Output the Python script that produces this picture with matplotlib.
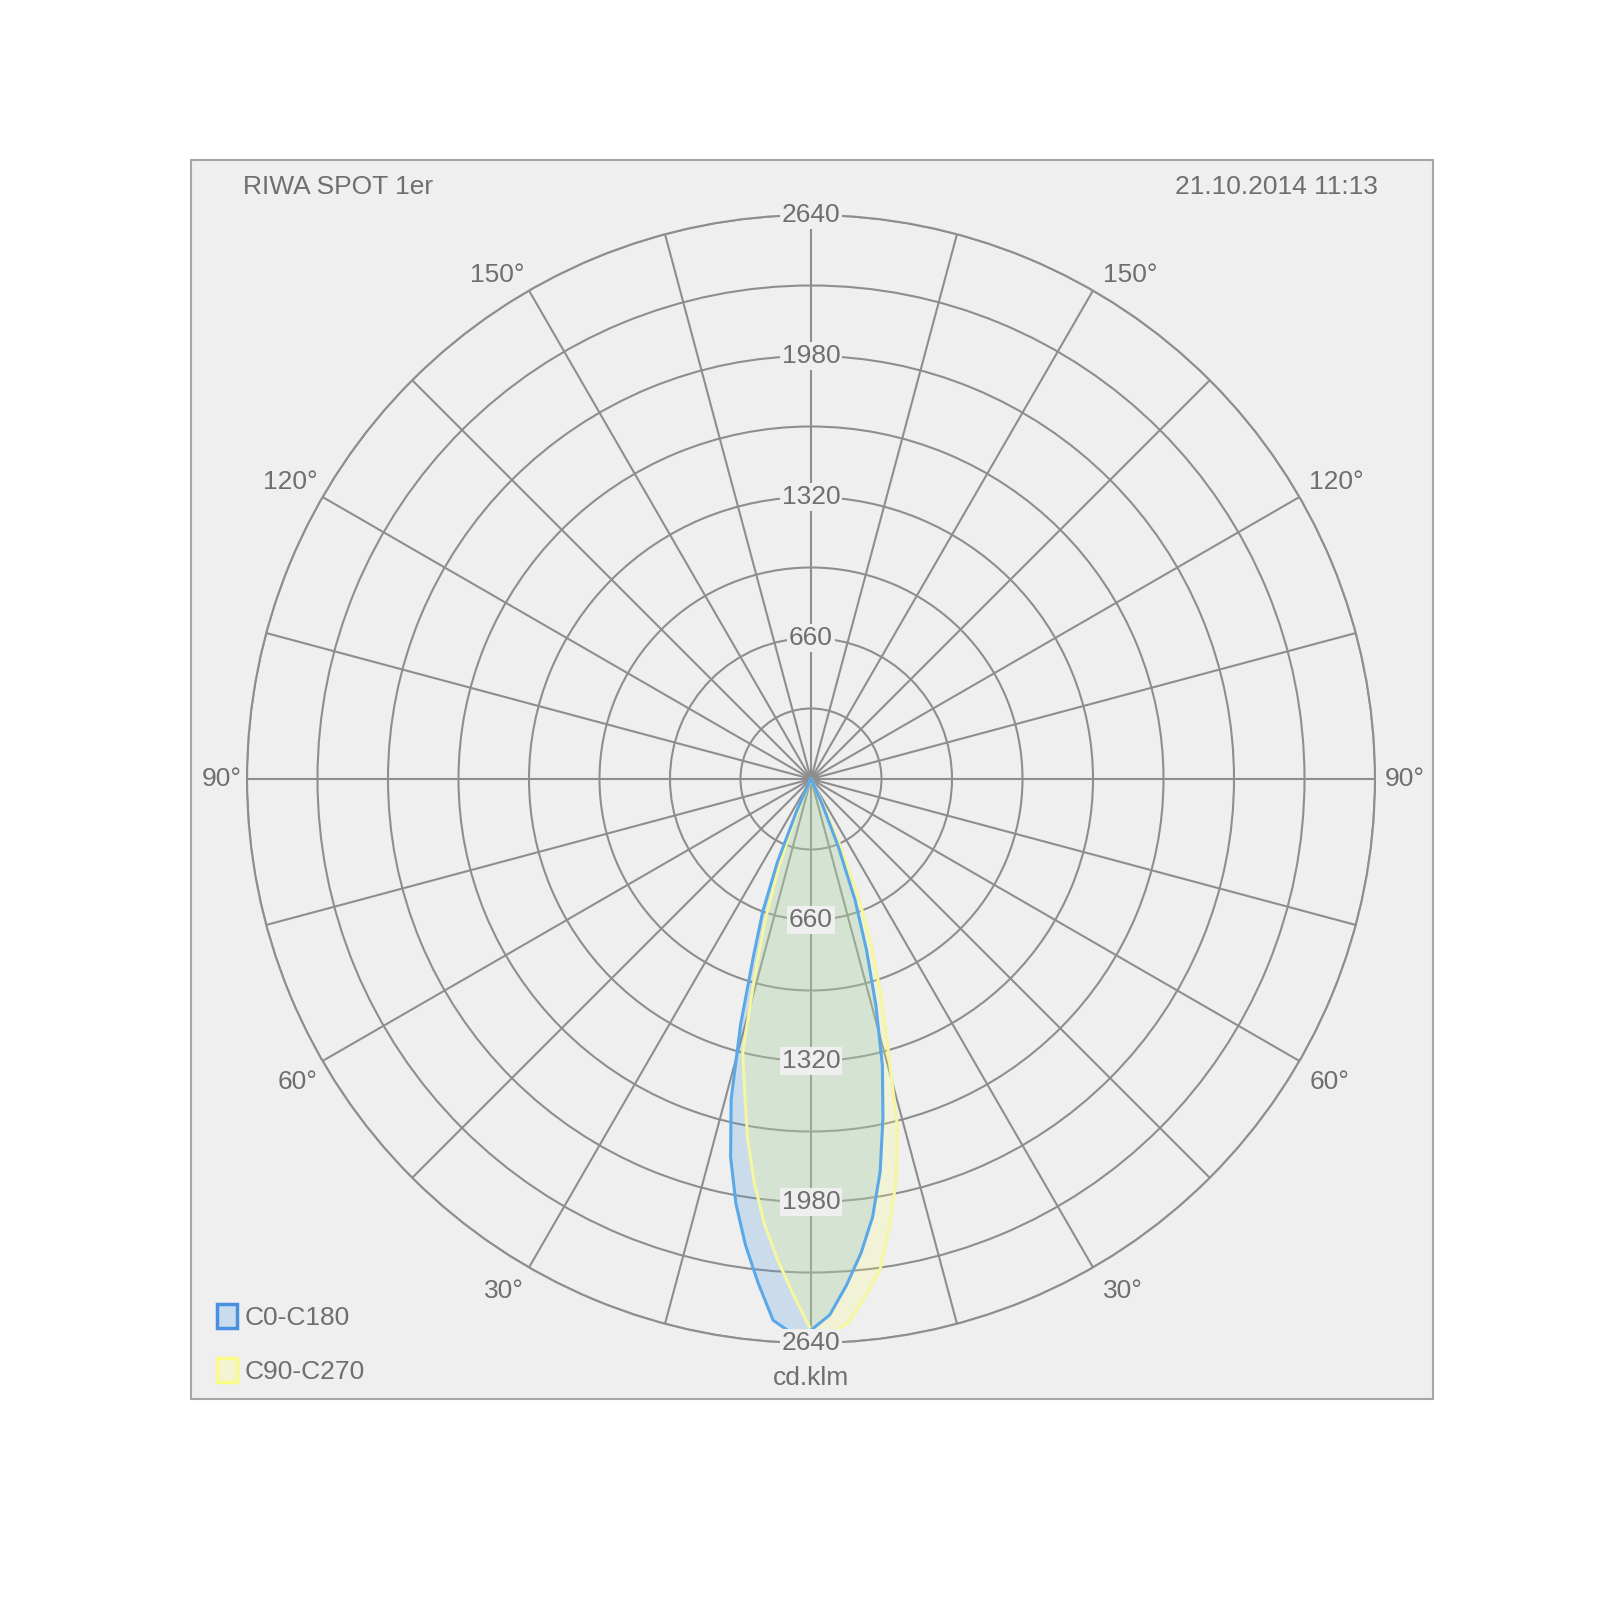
import numpy as np
import matplotlib
matplotlib.use("Agg")
import matplotlib.pyplot as plt
from matplotlib.patches import Rectangle

plt.rcParams['font.family'] = ['Liberation Sans', 'DejaVu Sans']

# ---------------- data ----------------
title_left = "RIWA SPOT 1er"
title_right = "21.10.2014 11:13"
unit_label = "cd.klm"
series_names = ["C0-C180", "C90-C270"]

gamma_deg = [0, 2, 4, 6, 8, 10, 12, 14, 16, 18, 20, 22, 24, 26, 28, 30, 90, 180]
c0_vals   = [2580, 2510, 2376, 2233, 2071, 1865, 1620, 1381, 1102, 840, 603, 340, 130, 30, 0, 0, 0, 0]
c180_vals = [2580, 2595, 2540, 2371, 2203, 2021, 1810, 1545, 1195, 871, 660, 420, 170, 40, 0, 0, 0, 0]
c90_vals  = [2580, 2600, 2548, 2434, 2321, 2119, 1920, 1667, 1302, 1054, 819, 587, 300, 80, 0, 0, 0, 0]
c270_vals = [2580, 2412, 2254, 2093, 1909, 1709, 1494, 1321, 953, 690, 450, 220, 60, 0, 0, 0, 0, 0]

r_ticks = [330, 660, 990, 1320, 1650, 1980, 2310, 2640]
r_label_ticks = [660, 1320, 1980, 2640]
r_max = 2640
angle_label_deg = [30, 60, 90, 120, 150]

# ---------------- styling ----------------
TXT = '#6f6f6f'
GRID = '#8e8e8e'
PANEL = '#efefef'
FS = 19

fig = plt.figure(figsize=(16, 16), dpi=100)
fig.patch.set_facecolor('white')

# panel
fig.add_artist(Rectangle((191 / 1600, 201 / 1600), 1242 / 1600, 1239 / 1600,
                         transform=fig.transFigure, facecolor=PANEL,
                         edgecolor='#a5a5a5', linewidth=1.5, zorder=0))

cx, cy, R = 811, 779, 564
ax = fig.add_axes([(cx - R) / 1600, (1600 - cy - R) / 1600, 2 * R / 1600, 2 * R / 1600],
                  projection='polar')
ax.set_facecolor('none')
ax.set_theta_zero_location('S')
ax.set_theta_direction(1)
ax.set_rlim(0, r_max)
ax.set_rgrids(r_ticks, labels=[''] * len(r_ticks))
ax.set_thetagrids(np.arange(0, 360, 15), labels=[''] * 24)
ax.grid(True, color=GRID, linewidth=1.5)
ax.spines['polar'].set_color(GRID)
ax.spines['polar'].set_linewidth(1.5)
ax.set_axisbelow(True)
ax.tick_params(axis='both', length=0, pad=0)


def full_curve(right_vals, left_vals):
    g = np.deg2rad(np.array(gamma_deg, dtype=float))
    th = np.concatenate([-g[::-1], g[1:]])
    rr = np.concatenate([np.array(left_vals, float)[::-1], np.array(right_vals, float)[1:]])
    return th, rr


th_b, r_b = full_curve(c0_vals, c180_vals)
th_y, r_y = full_curve(c90_vals, c270_vals)

ax.fill(th_b, r_b, color='#4a9be0', alpha=0.22, lw=0, zorder=2)
ax.fill(th_y, r_y, color='#ffff80', alpha=0.22, lw=0, zorder=3)
ax.plot(th_y, r_y, color='#f6f6a0', lw=2.2, zorder=4)
ax.plot(th_b, r_b, color='#5aa8e8', lw=2.2, zorder=5)

# radial labels
for rv in r_label_ticks:
    for th in (0.0, np.pi):
        ax.text(th, rv, str(rv), ha='center', va='center', fontsize=FS, color=TXT,
                zorder=10,
                bbox=dict(boxstyle='square,pad=0.08', fc=PANEL, ec='none'))

# angle labels
dy_px = {150: -16, 120: -15, 90: 0, 60: 21, 30: 24}
for a in angle_label_deg:
    d = -dy_px[a] * 0.72
    ax.annotate(f"{a}°", xy=(np.deg2rad(a), r_max), xytext=(10 * 0.72, d),
                textcoords='offset points', ha='left', va='center',
                fontsize=FS, color=TXT, annotation_clip=False)
    ax.annotate(f"{a}°", xy=(np.deg2rad(-a), r_max), xytext=(-5 * 0.72, d),
                textcoords='offset points', ha='right', va='center',
                fontsize=FS, color=TXT, annotation_clip=False)

# titles
fig.text(243 / 1600, 1 - 187 / 1600, title_left, ha='left', va='center',
         fontsize=FS, color=TXT)
fig.text(1378 / 1600, 1 - 187 / 1600, title_right, ha='right', va='center',
         fontsize=FS, color=TXT)
fig.text(cx / 1600, 1 - 1378 / 1600, unit_label, ha='center', va='center',
         fontsize=FS, color=TXT)

# legend
leg_specs = [(1304, '#4a90e2', '#c9dcee'), (1358, '#fbfb8a', '#f4f4d2')]
for (ytop, ec, fc), name in zip(leg_specs, series_names):
    fig.add_artist(Rectangle((217 / 1600, 1 - (ytop + 24) / 1600), 20 / 1600, 24 / 1600,
                             transform=fig.transFigure, facecolor=fc, edgecolor=ec,
                             linewidth=2.5, zorder=5))
    fig.text(245 / 1600, 1 - (ytop + 14) / 1600, name, ha='left', va='center',
             fontsize=FS, color=TXT)

fig.savefig('out.png', dpi=100, facecolor='white')
